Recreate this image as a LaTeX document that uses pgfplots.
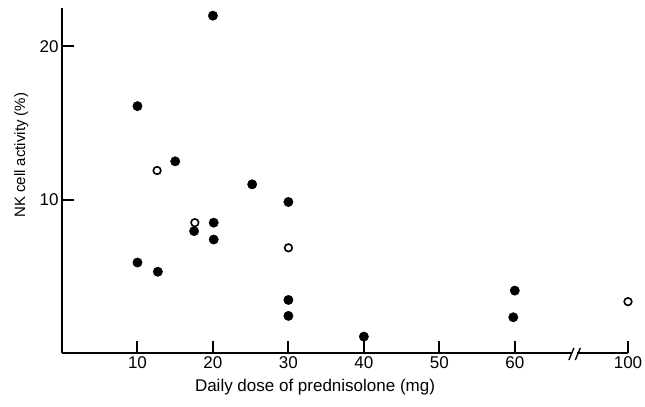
\documentclass[border=0pt]{standalone}
\usepackage{pgfplots}
\pgfplotsset{compat=1.18}
\usepackage{fontspec}
\setmainfont{Liberation Sans}
\begin{document}
\begin{tikzpicture}[font=\fontsize{17bp}{20bp}\selectfont]
\begin{axis}[
    scale only axis,
    width=566bp, height=345bp,
    xmin=0, xmax=75, ymin=0, ymax=22.5,
    axis x line*=bottom, axis y line*=left,
    axis line style={line width=2bp, -},
    tick align=inside,
    major tick length=12bp,
    tick style={line width=2bp, black},
    xtick={10,20,30,40,50,60,75},
    xticklabels={10,20,30,40,50,60,100},
    ytick={10,20},
    /pgf/number format/assume math mode=true,
    xlabel={Daily dose of prednisolone (mg)},
    ylabel={NK cell activity (\%)},
    xlabel style={at={(axis description cs:0.447,-0.099)}, anchor=center},
    ylabel style={at={(axis description cs:-0.072,0.573)}, anchor=center,
        font=\fontsize{15bp}{18bp}\selectfont},
    clip=false,
]
% filled circles
\addplot[only marks, mark=*, mark size=4.7bp, black] coordinates {
    (10,16.1) (20,22.0) (15,12.5) (25.2,11.0) (30,9.85)
    (17.5,7.95) (20.1,8.5) (20.1,7.4) (10,5.9) (12.7,5.3)
    (30,3.46) (30,2.42) (40,1.07) (60,4.07) (59.8,2.33)
};
% open circles
\addplot[only marks, mark=o, mark size=3.8bp, black, line width=1.6bp] coordinates {
    (12.6,11.9) (17.6,8.5) (30,6.86) (75,3.35)
};
% axis break
\fill[white] ([yshift=-2.5bp]axis cs:67.6,0) rectangle ([yshift=2.5bp]axis cs:68.2,0);
\draw[line width=1.4bp] ([xshift=-2.5bp,yshift=-7bp]axis cs:67.5,0) -- ([xshift=2.5bp,yshift=5bp]axis cs:67.5,0);
\draw[line width=1.4bp] ([xshift=-2.5bp,yshift=-7bp]axis cs:68.35,0) -- ([xshift=2.5bp,yshift=5bp]axis cs:68.35,0);
\end{axis}
\pgfresetboundingbox
\path[use as bounding box] ([shift={(-62bp,-54bp)}]current axis.south west) rectangle ([shift={(17bp,8bp)}]current axis.north east);
\end{tikzpicture}
\end{document}
